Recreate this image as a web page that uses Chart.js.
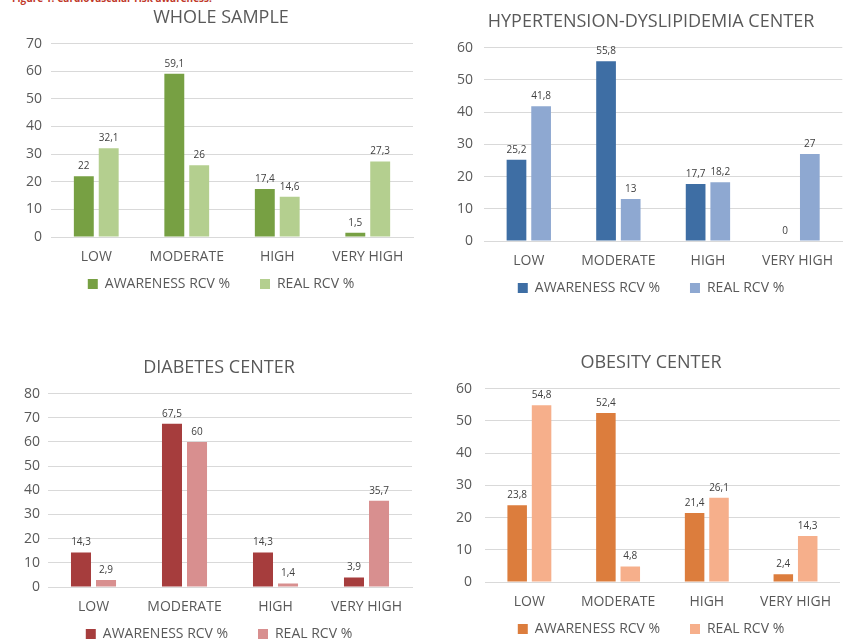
<!DOCTYPE html>
<html>
<head>
<meta charset="utf-8">
<script src="https://cdn.jsdelivr.net/npm/chart.js@4.4.1/dist/chart.umd.min.js"></script>
<style>
  html, body { margin: 0; padding: 0; background: #ffffff; }
  body { width: 843px; height: 640px; overflow: hidden; position: relative; font-family: "Open Sans", "Liberation Sans", sans-serif; }
  .fig-caption { position: absolute; left: 12px; top: -9px; color: #c0392b; font-size: 10px; font-weight: bold; white-space: nowrap; }
  .box { position: absolute; }
</style>
</head>
<body>
<div class="fig-caption">Figure 1: Cardiovascular risk awareness.</div>
<div class="box" style="left:0px;top:0px;width:420px;height:293px;"><canvas id="c1"></canvas></div>
<div class="box" style="left:435px;top:4px;width:410px;height:293px;"><canvas id="c2"></canvas></div>
<div class="box" style="left:0px;top:350px;width:418px;height:293px;"><canvas id="c3"></canvas></div>
<div class="box" style="left:435px;top:345px;width:408px;height:293px;"><canvas id="c4"></canvas></div>
<script>
const categories = ["LOW", "MODERATE", "HIGH", "VERY HIGH"];
const seriesNames = ["AWARENESS RCV %", "REAL RCV %"];

const wholeAwareness = [22, 59.1, 17.4, 1.5];
const wholeReal = [32.1, 26, 14.6, 27.3];

const hyperAwareness = [25.2, 55.8, 17.7, 0];
const hyperReal = [41.8, 13, 18.2, 27];

const diabetesAwareness = [14.3, 67.5, 14.3, 3.9];
const diabetesReal = [2.9, 60, 1.4, 35.7];

const obesityAwareness = [23.8, 52.4, 21.4, 2.4];
const obesityReal = [54.8, 4.8, 26.1, 14.3];

const textGray = "#595959";
const gridGray = "#d9d9d9";
const fontFamily = "'Open Sans', 'Liberation Sans', sans-serif";

// small plugin to write the values above the bars, with comma decimals
const valueLabels = {
    id: "valueLabels",
    afterDatasetsDraw(chart) {
        const ctx = chart.ctx;
        ctx.save();
        ctx.font = "10px " + fontFamily;
        ctx.fillStyle = "#404040";
        ctx.textAlign = "center";
        ctx.textBaseline = "bottom";
        chart.data.datasets.forEach((ds, i) => {
            chart.getDatasetMeta(i).data.forEach((bar, j) => {
                const txt = String(ds.data[j]).replace(".", ",");
                ctx.fillText(txt, bar.x, bar.y - 5);
            });
        });
        ctx.restore();
    }
};

// the original centres title + legend over the whole frame, not over the plot;
// nudge both boxes so their middle sits on `center`
const recenter = {
    id: "recenter",
    afterLayout(chart, args, opts) {
        [chart.titleBlock, chart.legend].forEach((box) => {
            if (!box) return;
            const dx = opts.center - (box.left + box.right) / 2;
            box.left += dx;
            box.right += dx;
        });
    }
};

const makeChart = (id, title, awareness, real, colors, yMax, pad, tickPad, center) => {
    const data = {
        labels: categories,
        datasets: [
            { label: seriesNames[0], data: awareness, backgroundColor: colors[0], categoryPercentage: 0.55, barPercentage: 0.8 },
            { label: seriesNames[1], data: real, backgroundColor: colors[1], categoryPercentage: 0.55, barPercentage: 0.8 },
        ],
    };
    const options = {
        responsive: true,
        maintainAspectRatio: false,
        animation: false,
        layout: { padding: pad },
        plugins: {
            recenter: { center },
            title: {
                display: true,
                text: title,
                color: textGray,
                font: { family: fontFamily, size: 18, weight: "normal" },
                padding: { top: 7, bottom: 15 },
            },
            legend: {
                position: "bottom",
                maxHeight: 24,
                labels: {
                    color: textGray,
                    font: { family: fontFamily, size: 14 },
                    boxWidth: 10,
                    boxHeight: 10,
                    padding: 8,
                    // extra room after the first entry, like the original
                    generateLabels(chart) {
                        const items = Chart.defaults.plugins.legend.labels.generateLabels(chart);
                        items[0].text = items[0].text + "\u00a0\u00a0\u00a0\u00a0\u00a0\u00a0";
                        return items;
                    },
                },
            },
            tooltip: { enabled: false },
        },
        scales: {
            y: {
                min: 0,
                max: yMax,
                ticks: { stepSize: 10, color: textGray, font: { family: fontFamily, size: 14 }, padding: tickPad },
                grid: { color: gridGray, drawTicks: false },
                border: { display: false },
            },
            x: {
                afterFit(scale) { scale.height = 32; },
                ticks: { color: textGray, font: { family: fontFamily, size: 14 }, padding: 12 },
                grid: { display: false, drawTicks: false },
                border: { display: true, color: gridGray },
            },
        },
    };
    return new Chart(id, { type: "bar", data, options, plugins: [valueLabels, recenter] });
};

makeChart("c1", "WHOLE SAMPLE", wholeAwareness, wholeReal, ["#77a043", "#b4cf8f"], 70, { left: 17, right: 7, top: 0, bottom: 0 }, 9, 221);
makeChart("c2", "HYPERTENSION-DYSLIPIDEMIA CENTER", hyperAwareness, hyperReal, ["#3e6ea4", "#8ea8d1"], 60, { left: 11, right: 0, top: 0, bottom: 0 }, 11, 216);
makeChart("c3", "DIABETES CENTER", diabetesAwareness, diabetesReal, ["#a63d3d", "#d88f8f"], 80, { left: 16, right: 6, top: 0, bottom: 0 }, 8, 219);
makeChart("c4", "OBESITY CENTER", obesityAwareness, obesityReal, ["#dc7d3d", "#f6af8b"], 60, { left: 8, right: 0, top: 0, bottom: 0 }, 13, 216);
</script>
</body>
</html>
